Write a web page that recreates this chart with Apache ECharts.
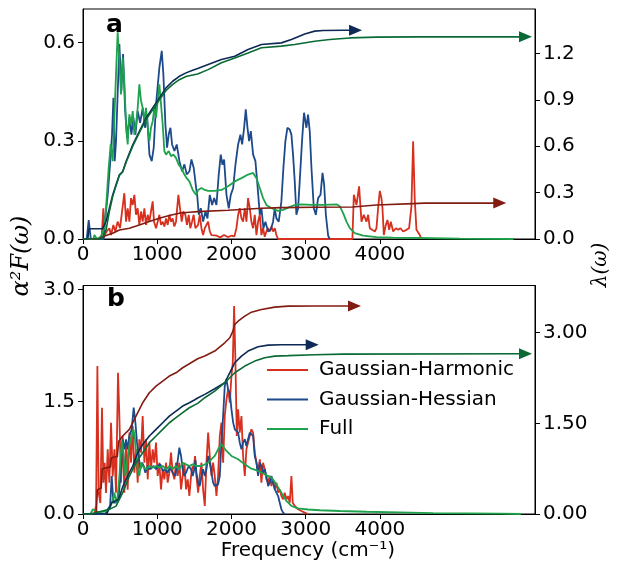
<!DOCTYPE html>
<html>
<head>
<meta charset="utf-8">
<script src="https://cdn.jsdelivr.net/npm/echarts@6/dist/echarts.min.js"></script>
<style>html,body{margin:0;padding:0;background:#fff}#c{width:620px;height:568px}</style>
</head>
<body>
<div id="c"></div>
<script>
// ---------- tick labels ----------
const X_TICKS = [0, 1000, 2000, 3000, 4000];
const A_LEFT_TICKS = [0, 0.3, 0.6];
const A_RIGHT_TICKS = [0, 0.3, 0.6, 0.9, 1.2];
const B_LEFT_TICKS = [0, 1.5, 3.0];
const B_RIGHT_TICKS = [0, 1.5, 3.0];
const LEGEND_NAMES = ['Gaussian-Harmonic', 'Gaussian-Hessian', 'Full'];

// ---------- panel a : alpha^2 F(omega) ----------
const aHarm = [[0,0],[250,0],[274,0.094],[292,0.012],[319,0.023],[355,0.033],[378,0.012],[409,0.043],[436,0.023],[467,0.053],[499,0.033],[526,0.084],[557,0.14],[580,0.053],[602,0.094],[625,0.053],[647,0.125],[670,0.104],[692,0.135],[714,0.074],[737,0.094],[759,0.043],[782,0.084],[804,0.053],[827,0.094],[849,0.043],[872,0.074],[894,0.053],[916,0.084],[939,0.115],[957,0.053],[984,0.033],[1006,0.053],[1029,0.074],[1051,0.043],[1074,0.053],[1096,0.038],[1119,0.063],[1141,0.043],[1163,0.074],[1186,0.053],[1208,0.063],[1231,0.038],[1253,0.053],[1285,0.135],[1307,0.094],[1330,0.053],[1352,0.084],[1379,0.074],[1401,0.043],[1424,0.074],[1446,0.033],[1469,0.053],[1491,0.074],[1514,0.033],[1528,0.033],[1551,0.043],[1573,0.074],[1596,0.033],[1618,0.012],[1641,0.033],[1663,0.038],[1686,0.053],[1708,0.023],[1731,0.012],[1753,0.007],[1800,0.01],[1850,0.005],[1900,0.012],[1950,0.006],[2000,0.01],[2040,0.008],[2067,0.033],[2090,0.074],[2112,0.094],[2135,0.063],[2157,0.053],[2180,0.094],[2202,0.053],[2224,0.125],[2247,0.094],[2269,0.053],[2292,0.033],[2314,0.074],[2337,0.012],[2359,0.053],[2382,0.074],[2404,0.012],[2426,0.033],[2449,0.007],[2471,0.023],[2494,0.033],[2516,0.023],[2539,0.038],[2561,0.023],[2584,0.033],[2606,0.012],[2629,0],[3630,0],[3649,0.135],[3662,0.14],[3685,0.104],[3720,0.161],[3752,0.053],[3783,0.074],[3819,0.053],[3842,0.074],[3864,0.033],[3896,0.028],[3932,0.023],[3954,0.033],[3976,0.094],[3999,0.147],[4021,0.125],[4035,0.094],[4053,0.012],[4080,0.043],[4102,0.058],[4125,0.028],[4147,0.053],[4179,0.023],[4214,0.033],[4246,0.028],[4277,0.033],[4313,0.023],[4358,0.028],[4394,0.033],[4425,0.1],[4448,0.299],[4470,0.12],[4493,0.028],[4515,0.033],[4538,0.012],[4560,0]];
const aHess = [[0,0],[50,0],[77,0.058],[105,0],[280,0],[288,0.038],[333,0.135],[364,0.227],[391,0.319],[410,0.432],[427,0.238],[445,0.299],[490,0.596],[517,0.452],[540,0.565],[566,0.401],[593,0.309],[625,0.371],[652,0.319],[679,0.371],[706,0.319],[737,0.391],[769,0.355],[805,0.401],[836,0.34],[863,0.38],[895,0.258],[926,0.238],[953,0.279],[984,0.411],[1029,0.524],[1061,0.575],[1083,0.503],[1110,0.35],[1133,0.279],[1155,0.32],[1178,0.34],[1200,0.289],[1232,0.269],[1263,0.289],[1299,0.238],[1335,0.207],[1366,0.228],[1398,0.197],[1434,0.207],[1461,0.243],[1492,0.217],[1524,0.156],[1540,0.13],[1560,0.074],[1587,0.094],[1618,0.053],[1650,0.084],[1677,0.063],[1708,0.135],[1740,0.104],[1767,0.125],[1798,0.104],[1829,0.197],[1856,0.258],[1879,0.227],[1901,0.243],[1933,0.135],[1964,0.094],[1991,0.135],[2023,0.156],[2054,0.227],[2090,0.289],[2121,0.319],[2144,0.289],[2171,0.34],[2193,0.396],[2216,0.34],[2238,0.299],[2261,0.33],[2292,0.258],[2323,0.238],[2350,0.166],[2382,0.074],[2404,0.094],[2431,0.033],[2458,0.053],[2494,0.023],[2529,0.028],[2561,0.053],[2583,0.094],[2606,0.063],[2637,0.053],[2673,0.115],[2700,0.217],[2727,0.299],[2754,0.34],[2785,0.335],[2808,0.319],[2830,0.258],[2853,0.176],[2875,0.074],[2898,0.094],[2920,0.176],[2951,0.299],[2978,0.386],[3010,0.34],[3032,0.38],[3055,0.33],[3078,0.217],[3110,0.094],[3137,0.074],[3168,0.125],[3200,0.135],[3227,0.202],[3249,0.166],[3272,0.074],[3303,0.01],[3325,0]];
const aFull = [[0,0],[140,0],[153,0.012],[190,0],[230,0.005],[250,0.012],[288,0.033],[310,0.094],[346,0.217],[373,0.289],[400,0.238],[423,0.371],[445,0.504],[467,0.632],[490,0.545],[512,0.442],[535,0.555],[557,0.48],[580,0.35],[602,0.289],[625,0.381],[647,0.35],[670,0.391],[692,0.319],[714,0.35],[737,0.401],[759,0.473],[782,0.422],[804,0.401],[827,0.36],[849,0.401],[872,0.34],[894,0.299],[916,0.34],[939,0.36],[961,0.401],[984,0.371],[1006,0.422],[1029,0.473],[1051,0.412],[1074,0.35],[1096,0.269],[1119,0.258],[1155,0.269],[1186,0.253],[1217,0.258],[1253,0.248],[1289,0.227],[1325,0.217],[1366,0.197],[1397,0.186],[1433,0.176],[1478,0.15],[1523,0.135],[1551,0.15],[1596,0.156],[1641,0.15],[1686,0.147],[1775,0.147],[1865,0.15],[1955,0.161],[2045,0.176],[2135,0.186],[2224,0.197],[2292,0.202],[2337,0.186],[2382,0.156],[2426,0.125],[2471,0.104],[2539,0.094],[2629,0.086],[2696,0.089],[2763,0.096],[2853,0.104],[2943,0.106],[3078,0.104],[3250,0.104],[3415,0.106],[3460,0.1],[3505,0.079],[3550,0.053],[3595,0.033],[3662,0.018],[3774,0.01],[3954,0.006],[4178,0.004],[4538,0.003],[5077,0.001],[5800,0]];

// ---------- panel a : lambda(omega) ----------
const aHarmL = [[0,0],[200,0],[274,0.015],[310,0.022],[400,0.037],[490,0.058],[625,0.07],[759,0.091],[894,0.113],[1029,0.134],[1163,0.152],[1298,0.167],[1433,0.173],[1545,0.177],[1955,0.186],[2404,0.199],[2673,0.203],[3122,0.205],[3631,0.207],[3954,0.22],[4448,0.229],[4600,0.232],[5615,0.232]];
const aHessL = [[0,0],[65,0],[80,0.065],[110,0.066],[265,0.067],[310,0.113],[355,0.199],[400,0.285],[445,0.35],[490,0.415],[535,0.436],[580,0.501],[670,0.609],[759,0.696],[849,0.782],[939,0.847],[1029,0.912],[1119,0.977],[1208,1.02],[1298,1.052],[1388,1.074],[1478,1.091],[1545,1.102],[1686,1.128],[1865,1.16],[2045,1.182],[2224,1.225],[2404,1.257],[2673,1.268],[2808,1.29],[2988,1.326],[3122,1.344],[3236,1.348],[3505,1.35],[3672,1.35]];
const aFullL = [[0,0],[250,0],[310,0.058],[355,0.177],[400,0.274],[445,0.345],[490,0.41],[535,0.435],[580,0.495],[670,0.6],[759,0.688],[849,0.772],[939,0.835],[1029,0.9],[1119,0.96],[1208,1.0],[1298,1.03],[1388,1.05],[1478,1.06],[1545,1.067],[1686,1.095],[1865,1.139],[2045,1.171],[2224,1.203],[2404,1.236],[2673,1.247],[2853,1.257],[3122,1.279],[3325,1.29],[3595,1.3],[3954,1.305],[4500,1.307],[5962,1.307]];

// ---------- panel b : alpha^2 F(omega) ----------
const bHarm = [[0,0],[150,0],[165,0.063],[176,0.107],[194,1.977],[211,0.285],[234,0.147],[256,1.42],[274,0.418],[292,0.685],[310,0.28],[333,0.864],[355,0.418],[378,1.22],[400,0.5],[423,0.864],[445,0.285],[472,1.887],[490,1.309],[512,0.418],[535,1.042],[557,0.285],[580,0.953],[602,0.325],[625,1.087],[647,0.685],[670,1.176],[692,0.552],[714,0.864],[737,0.418],[759,0.998],[782,0.82],[804,1.309],[827,0.685],[849,0.998],[872,0.463],[894,0.953],[916,0.597],[939,0.864],[961,0.685],[984,0.953],[1006,0.508],[1029,0.685],[1051,0.329],[1074,0.597],[1096,0.463],[1119,0.685],[1141,0.418],[1163,0.552],[1186,0.82],[1208,0.552],[1231,0.463],[1253,0.685],[1276,0.508],[1298,0.685],[1321,0.329],[1343,0.508],[1366,0.685],[1388,0.329],[1411,0.463],[1433,0.24],[1456,0.508],[1478,0.641],[1490,0.6],[1510,0.775],[1528,0.508],[1551,0.285],[1573,0.508],[1596,0.685],[1618,0.329],[1641,0.107],[1663,0.685],[1686,1.087],[1708,0.775],[1731,0.508],[1753,0.685],[1775,0.508],[1798,0.24],[1820,0.508],[1843,1.042],[1865,1.22],[1888,0.685],[1910,1.309],[1933,1.532],[1955,1.665],[1978,1.487],[2000,1.843],[2018,2.02],[2036,2.778],[2054,2.02],[2072,1.042],[2090,1.398],[2112,1.087],[2135,1.309],[2157,0.775],[2180,0.508],[2202,0.864],[2224,0.953],[2247,1.042],[2269,1.131],[2292,1.087],[2314,0.82],[2337,0.685],[2359,0.552],[2382,0.731],[2404,0.418],[2426,0.685],[2449,0.597],[2471,0.463],[2494,0.418],[2516,0.508],[2539,0.374],[2561,0.463],[2584,0.329],[2606,0.418],[2629,0.285],[2651,0.329],[2673,0.24],[2696,0.196],[2718,0.285],[2741,0.196],[2763,0.24],[2786,0.151],[2808,0.508],[2826,0.151],[2853,0.107],[2898,0.063],[2943,0.04],[2988,0.018],[3032,0]];
const bHess = [[0,0],[300,0],[333,0.063],[365,0.107],[387,0.508],[409,0.151],[445,0.151],[481,0.24],[512,0.597],[535,0.998],[557,0.864],[580,0.998],[602,0.864],[625,1.042],[656,1.131],[683,1.42],[706,1.22],[728,0.953],[750,0.775],[773,0.597],[795,0.685],[818,0.641],[840,0.552],[872,0.641],[894,0.597],[925,0.619],[952,0.641],[984,0.597],[1006,0.641],[1042,0.663],[1074,0.575],[1110,0.597],[1141,0.552],[1172,0.619],[1208,0.552],[1244,0.508],[1276,0.708],[1298,0.886],[1321,0.775],[1343,0.597],[1366,0.508],[1388,0.552],[1424,0.641],[1456,0.597],[1478,0.508],[1500,0.597],[1515,0.72],[1528,0.552],[1551,0.418],[1573,0.374],[1596,0.508],[1618,0.597],[1641,0.508],[1663,0.597],[1686,0.775],[1708,0.685],[1731,0.552],[1753,0.418],[1775,0.374],[1798,0.374],[1820,0.396],[1843,0.508],[1865,0.953],[1888,1.309],[1910,1.71],[1933,1.799],[1955,1.665],[1978,1.62],[2000,1.398],[2023,1.22],[2045,1.131],[2067,1.131],[2090,1.087],[2112,0.953],[2135,0.864],[2157,0.953],[2180,0.998],[2202,0.909],[2224,0.998],[2247,1.087],[2269,1.109],[2292,1.042],[2314,0.775],[2337,0.685],[2359,0.508],[2382,0.685],[2404,0.641],[2426,0.552],[2449,0.597],[2471,0.508],[2494,0.374],[2516,0.418],[2539,0.508],[2561,0.418],[2584,0.329],[2606,0.351],[2629,0.24],[2651,0.151],[2673,0.063],[2696,0.018],[2718,0]];
const bFull = [[0,0],[100,0],[131,0.063],[176,0.04],[220,0.018],[265,0.03],[310,0.04],[355,0.063],[391,0.151],[423,0.285],[445,0.151],[467,0.24],[490,0.508],[512,0.82],[526,0.976],[548,0.775],[571,0.508],[593,0.685],[616,0.864],[638,0.998],[660,1.042],[679,1.131],[697,1.042],[714,0.82],[737,0.597],[759,0.508],[782,0.685],[804,0.641],[849,0.597],[894,0.641],[939,0.619],[984,0.641],[1029,0.619],[1074,0.641],[1119,0.597],[1163,0.641],[1208,0.605],[1253,0.641],[1298,0.597],[1343,0.685],[1388,0.663],[1433,0.641],[1478,0.663],[1523,0.641],[1596,0.641],[1686,0.685],[1775,0.775],[1820,0.864],[1865,0.931],[1888,0.909],[1933,0.842],[2000,0.775],[2090,0.731],[2180,0.663],[2269,0.605],[2359,0.575],[2449,0.53],[2539,0.486],[2606,0.396],[2673,0.285],[2741,0.174],[2808,0.107],[2898,0.075],[3032,0.06],[3190,0.05],[3460,0.04],[3819,0.03],[4268,0.022],[4717,0.013],[5166,0.009],[5615,0.005],[5900,0]];

// ---------- panel b : lambda(omega) ----------
const bHarmL = [[0,0],[170,0],[180,0.05],[194,0.4],[245,0.43],[260,0.75],[370,0.78],[382,0.93],[462,0.95],[480,1.2],[535,1.29],[625,1.4],[714,1.62],[804,1.84],[894,2.006],[984,2.117],[1074,2.2],[1163,2.282],[1253,2.337],[1343,2.42],[1433,2.486],[1545,2.569],[1641,2.613],[1775,2.696],[1910,2.833],[1978,2.916],[2022,3.03],[2045,3.137],[2090,3.19],[2180,3.275],[2269,3.34],[2404,3.385],[2584,3.423],[2763,3.44],[3122,3.443],[3658,3.443]];
const bHessL = [[0,0],[320,0],[355,0.1],[387,0.19],[480,0.24],[535,0.45],[580,0.573],[670,0.794],[737,1.014],[804,1.152],[894,1.29],[984,1.4],[1074,1.51],[1163,1.62],[1253,1.703],[1343,1.786],[1433,1.84],[1506,1.89],[1545,1.92],[1641,1.98],[1775,2.073],[1910,2.172],[1955,2.282],[2000,2.393],[2045,2.503],[2135,2.613],[2224,2.696],[2359,2.767],[2494,2.795],[2673,2.8],[3088,2.8]];
const bFullL = [[0,0],[100,0],[355,0.077],[445,0.13],[535,0.353],[625,0.628],[714,0.849],[804,1.014],[894,1.18],[984,1.29],[1074,1.4],[1163,1.51],[1253,1.593],[1343,1.676],[1433,1.758],[1545,1.83],[1641,1.924],[1775,2.034],[1910,2.172],[2045,2.337],[2180,2.448],[2314,2.53],[2449,2.585],[2584,2.613],[2763,2.62],[3122,2.635],[3500,2.645],[5962,2.651]];

// ---------- styling ----------
const C_HARM = '#d7301f', C_HESS = '#1c4a8a', C_FULL = '#1ea34c';
const C_HARM_L = '#821c12', C_HESS_L = '#0c2a55', C_FULL_L = '#0a6a35';
const FONT = 'DejaVu Sans';
const AX = '#000';

function xAxis(g) {
  return {
    type: 'value', gridIndex: g, min: 0, max: 6090,
    axisLine: { show: true, lineStyle: { color: AX, width: 1 } },
    axisTick: { show: true, customValues: X_TICKS, length: 5, lineStyle: { color: AX } },
    axisLabel: { customValues: X_TICKS, fontSize: 20, fontFamily: FONT, color: AX, margin: 6,
      formatter: v => String(Math.round(v)) },
    splitLine: { show: false }
  };
}
function yAxis(g, pos, max, ticks, dec) {
  return {
    type: 'value', gridIndex: g, position: pos, min: 0, max: max,
    axisLine: { show: true, onZero: false, lineStyle: { color: AX, width: 1 } },
    axisTick: { show: true, customValues: ticks, length: 5, lineStyle: { color: AX } },
    axisLabel: { customValues: ticks, fontSize: 20, fontFamily: FONT, color: AX, margin: 8,
      formatter: v => Number(v).toFixed(dec) },
    splitLine: { show: false }
  };
}
function dens(name, data, color, xi, yi) {
  return { name, type: 'line', xAxisIndex: xi, yAxisIndex: yi, data, symbol: 'none',
    lineStyle: { color, width: 1.8 }, itemStyle: { color }, z: 2, silent: true };
}
function lam(name, data, color, xi, yi) {
  const d = data.map((p, i) => i === data.length - 1
    ? { value: p, symbol: 'triangle', symbolSize: [11, 13], symbolRotate: -90 }
    : p);
  return { name, type: 'line', xAxisIndex: xi, yAxisIndex: yi, data: d, symbol: 'none',
    showSymbol: true, lineStyle: { color, width: 1.6 }, itemStyle: { color }, z: 4, silent: true };
}

const chart = echarts.init(document.getElementById('c'), null, { renderer: 'canvas' });
chart.setOption({
  animation: false,
  backgroundColor: '#fff',
  grid: [
    { left: 83, right: 85, top: 9, height: 230, show: true, borderColor: AX, borderWidth: 1, backgroundColor: 'transparent' },
    { left: 83, right: 85, top: 285.5, height: 228.5, show: true, borderColor: AX, borderWidth: 1, backgroundColor: 'transparent' }
  ],
  xAxis: [xAxis(0), xAxis(1)],
  yAxis: [
    yAxis(0, 'left', 0.703, A_LEFT_TICKS, 1),
    yAxis(0, 'right', 1.487, A_RIGHT_TICKS, 1),
    yAxis(1, 'left', 3.052, B_LEFT_TICKS, 1),
    yAxis(1, 'right', 3.781, B_RIGHT_TICKS, 2)
  ],
  legend: {
    data: LEGEND_NAMES, orient: 'vertical', left: 262, top: 355, icon: 'rect', itemWidth: 41, itemHeight: 2, itemGap: 9.5,
    textStyle: { fontSize: 20, fontFamily: FONT, color: '#000', padding: [0, 0, 0, 6] },
    selectedMode: false
  },
  series: [
    dens(LEGEND_NAMES[0], aHarm, C_HARM, 0, 0),
    dens(LEGEND_NAMES[1], aHess, C_HESS, 0, 0),
    dens(LEGEND_NAMES[2], aFull, C_FULL, 0, 0),
    lam('λ Gaussian-Harmonic a', aHarmL, C_HARM_L, 0, 1),
    lam('λ Gaussian-Hessian a', aHessL, C_HESS_L, 0, 1),
    lam('λ Full a', aFullL, C_FULL_L, 0, 1),
    dens(LEGEND_NAMES[0], bHarm, C_HARM, 1, 2),
    dens(LEGEND_NAMES[1], bHess, C_HESS, 1, 2),
    dens(LEGEND_NAMES[2], bFull, C_FULL, 1, 2),
    lam('λ Gaussian-Harmonic b', bHarmL, C_HARM_L, 1, 3),
    lam('λ Gaussian-Hessian b', bHessL, C_HESS_L, 1, 3),
    lam('λ Full b', bFullL, C_FULL_L, 1, 3)
  ],
  graphic: [
    { type: 'text', left: 106, top: 13, style: { text: 'a', fontSize: 25, fontWeight: 'bold', fontFamily: FONT, fill: '#000' }, z: 10 },
    { type: 'text', left: 107, top: 287, style: { text: 'b', fontSize: 25, fontWeight: 'bold', fontFamily: FONT, fill: '#000' }, z: 10 },
    { type: 'text', x: 22, y: 256, rotation: Math.PI / 2,
      style: { text: 'α²F(ω)', fontSize: 24, fontStyle: 'italic', fontFamily: 'DejaVu Serif', fill: '#000', align: 'center', verticalAlign: 'middle' } },
    { type: 'text', x: 601, y: 265, rotation: Math.PI / 2,
      style: { text: 'λ(ω)', fontSize: 20, fontStyle: 'italic', fontFamily: 'DejaVu Serif', fill: '#000', align: 'center', verticalAlign: 'middle' } },
    { type: 'text', x: 308, y: 551,
      style: { text: 'Frequency (cm⁻¹)', fontSize: 20, fontFamily: FONT, fill: '#000', align: 'center', verticalAlign: 'middle' } }
  ]
});
</script>
</body>
</html>
